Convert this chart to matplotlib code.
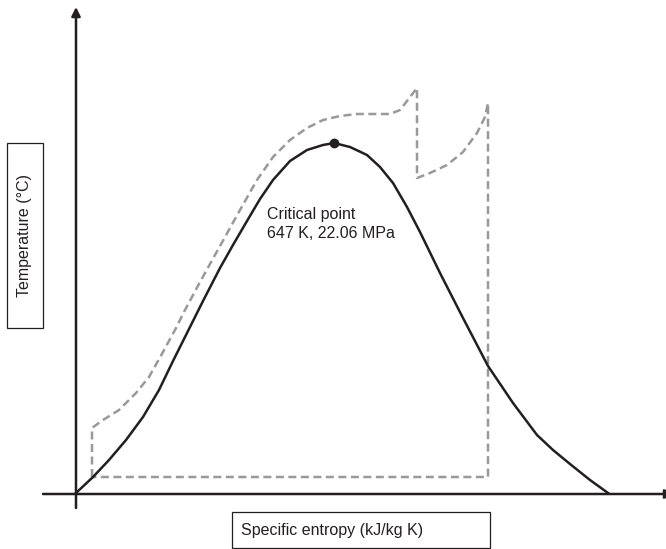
import matplotlib
matplotlib.use('Agg')
import matplotlib.pyplot as plt
from matplotlib.patches import Rectangle

plt.rcParams['font.family'] = ['Liberation Sans', 'DejaVu Sans']

# saturation dome (entropy, temperature), arbitrary units
dome_s = [0, 17, 33, 50, 67, 83, 97, 110, 127, 144, 157, 171, 184, 197, 214, 231,
          247, 258, 274, 291, 304, 317, 331, 344, 364, 387, 412, 437, 461, 477, 494,
          514, 532]
dome_T = [0, 16, 33, 53, 76, 103, 132, 158, 192, 225, 248, 272, 294, 313, 332, 343,
          348, 350, 346, 338, 326, 310, 286, 261, 220, 175, 127, 90, 58, 43, 29,
          13, 0]

# cycle path with reheat
cycle_s = [16, 16, 27, 43, 60, 73, 87, 99, 109, 124, 144, 164, 181, 197, 214, 231,
           247, 264, 281, 314, 324, 331, 341, 341, 354, 371, 387, 401, 409, 412,
           412, 16]
cycle_T = [16, 65, 73, 83, 100, 116, 141, 163, 183, 211, 247, 283, 313, 336, 353, 365,
           373, 377, 379, 379, 383, 392, 405, 315, 320, 328, 341, 360, 376, 390,
           16, 16]

crit_label = 'Critical point\n647 K, 22.06 MPa'
xlabel = 'Specific entropy (kJ/kg K)'
ylabel = 'Temperature (°C)'

fig = plt.figure(figsize=(6.66, 5.49), dpi=100)
ax = fig.add_axes([0, 0, 1, 1])
ax.set_xlim(-76, 590)
ax.set_ylim(-56, 493)
ax.axis('off')

# axes with arrow heads
ax.annotate('', xy=(0, 486), xytext=(0, -15),
            arrowprops=dict(arrowstyle='-|>', lw=1.8, color='#231f20',
                            mutation_scale=13, shrinkA=0, shrinkB=0))
ax.annotate('', xy=(598, -1), xytext=(-33, -1), annotation_clip=False,
            arrowprops=dict(arrowstyle='-|>', lw=1.8, color='#231f20',
                            mutation_scale=13, shrinkA=0, shrinkB=0))

ax.plot(cycle_s, cycle_T, color='#999999', lw=1.8, linestyle=(0, (3.2, 1.8)),
        dash_joinstyle='round')
ax.plot(dome_s, dome_T, color='#231f20', lw=1.8, solid_joinstyle='round')

i_top = dome_T.index(max(dome_T))
ax.plot(dome_s[i_top], dome_T[i_top], 'o', ms=6, color='#231f20')
ax.text(191, 286, crit_label, fontsize=11.5, va='top', ha='left',
        linespacing=1.3, color='#231f20')

# boxed axis labels
ax.add_patch(Rectangle((156, -55), 258, 36, fill=False, lw=0.9, ec='#231f20'))
ax.text(165, -37, xlabel, fontsize=11.5, va='center', ha='left', color='#231f20')
ax.add_patch(Rectangle((-69, 165), 36, 185, fill=False, lw=0.9, ec='#231f20'))
ax.text(-51, 257.5, ylabel, fontsize=11.5, va='center', ha='center',
        rotation=90, color='#231f20')

fig.savefig('out.png', dpi=100)
